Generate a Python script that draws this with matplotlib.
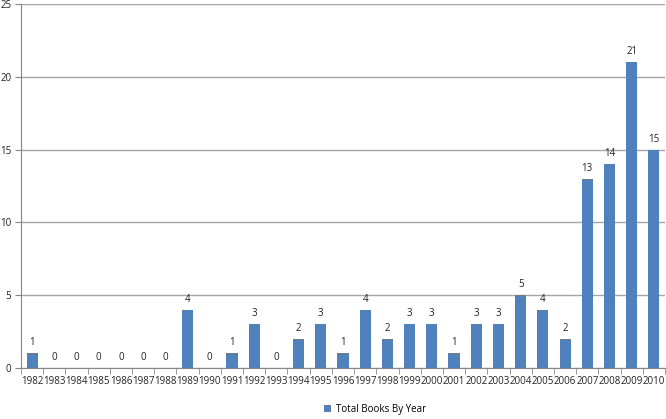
import matplotlib
matplotlib.use("Agg")
import matplotlib.pyplot as plt
import numpy as np

years = [str(y) for y in range(1982, 2011)]
counts = [1, 0, 0, 0, 0, 0, 0, 4, 0, 1, 3, 0, 2, 3, 1, 4, 2, 3, 3, 1, 3, 3, 5, 4, 2, 13, 14, 21, 15]
series_name = "Total Books By Year"
yticks = [0, 5, 10, 15, 20, 25]

plt.rcParams['font.family'] = ['Open Sans', 'DejaVu Sans']
fig = plt.figure(figsize=(6.66, 4.19), dpi=100)
ax = fig.add_axes([21/666, 1-368/419, 644/666, 364/419])

x = np.arange(len(years))
bars = ax.bar(x, counts, width=0.5, color='#4F81BD', label=series_name, zorder=3)
for xi, v in zip(x, counts):
    ax.text(xi, v + 0.35, str(v), ha='center', va='bottom', fontsize=7, color='#222222')

ax.set_xlim(-0.5, len(years) - 0.5)
ax.set_ylim(0, 25)
ax.set_yticks(yticks)
ax.set_yticklabels([str(t) for t in yticks], fontsize=7, color='#222222')
ax.yaxis.grid(True, color='#A6A6A6', linewidth=1, zorder=0)
ax.tick_params(axis='y', length=4, color='#868686', pad=3)
ax.set_xticks(x)
ax.set_xticklabels(years, fontsize=7, color='#222222')
ax.set_xticks(np.arange(-0.5, len(years)), minor=True)
ax.tick_params(axis='x', which='major', length=0, pad=6)
ax.tick_params(axis='x', which='minor', length=4, color='#868686')
for s in ['top', 'right']:
    ax.spines[s].set_visible(False)
ax.spines['left'].set_color('#868686')
ax.spines['bottom'].set_color('#868686')

fig.legend(handles=[bars], labels=[series_name], loc='center', bbox_to_anchor=(375/666, 1-409/419),
           frameon=False, fontsize=7, handlelength=0.7, handleheight=0.7, handletextpad=0.5)

fig.savefig("out.png", dpi=100)
